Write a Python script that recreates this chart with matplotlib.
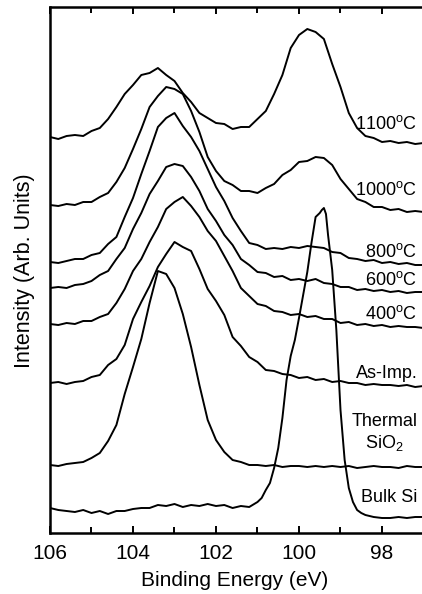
import matplotlib
matplotlib.use("Agg")
import matplotlib.pyplot as plt

plt.rcParams['font.family'] = ['Liberation Sans', 'DejaVu Sans']
plt.rcParams['mathtext.fontset'] = 'custom'
plt.rcParams['mathtext.rm'] = 'Liberation Sans'
plt.rcParams['mathtext.it'] = 'Liberation Sans:italic'
plt.rcParams['mathtext.bf'] = 'Liberation Sans:bold'

# Binding energy grid (eV)
energy = [106.0, 105.8, 105.6, 105.4, 105.2, 105.0, 104.8, 104.6, 104.4, 104.2,
          104.0, 103.8, 103.6, 103.4, 103.2, 103.0, 102.8, 102.6, 102.4, 102.2,
          102.0, 101.8, 101.6, 101.4, 101.2, 101.0, 100.8, 100.6, 100.4, 100.2,
          100.0, 99.8, 99.6, 99.4, 99.2, 99.0, 98.8, 98.6, 98.4, 98.2,
          98.0, 97.8, 97.6, 97.4, 97.2, 97.0]

# Intensities (arb. units, offset stacked)
s1100 = [396, 394, 397, 398, 397, 402, 405, 414, 426, 439, 448, 458, 460, 465, 458, 452,
         440, 431, 420, 415, 410, 409, 404, 406, 406, 414, 422, 439, 458, 485, 498, 504,
         501, 494, 469, 446, 420, 405, 397, 395, 391, 392, 390, 391, 389, 390]
s1000 = [328, 327, 329, 328, 331, 331, 336, 340, 351, 365, 384, 404, 426, 437, 446, 444,
         439, 422, 401, 376, 362, 352, 348, 342, 342, 340, 345, 349, 358, 363, 371, 372,
         376, 375, 368, 354, 344, 334, 331, 326, 326, 323, 324, 321, 322, 321]
s800 = [271, 270, 272, 274, 274, 278, 280, 289, 296, 316, 335, 359, 382, 406, 415, 420,
        407, 396, 382, 364, 346, 332, 315, 302, 290, 288, 284, 285, 284, 286, 285, 287,
        286, 285, 281, 280, 275, 274, 272, 273, 270, 271, 269, 270, 268, 268]
s600 = [245, 246, 245, 248, 249, 252, 258, 262, 274, 285, 304, 320, 339, 352, 366, 369,
        367, 356, 342, 324, 312, 298, 288, 274, 268, 261, 260, 256, 257, 253, 254, 252,
        254, 250, 249, 246, 246, 243, 244, 242, 243, 241, 242, 240, 241, 241]
s400 = [209, 208, 210, 209, 212, 212, 216, 219, 230, 244, 262, 274, 291, 306, 324, 331,
        336, 327, 316, 302, 292, 277, 262, 245, 237, 229, 227, 222, 221, 218, 219, 216,
        217, 214, 214, 210, 211, 208, 209, 207, 208, 206, 207, 206, 206, 205]
s_asimp = [150, 151, 149, 151, 152, 156, 158, 168, 174, 188, 214, 231, 247, 266, 279, 291,
           286, 282, 264, 244, 232, 218, 196, 187, 176, 171, 163, 162, 159, 158, 155, 156,
           153, 154, 151, 152, 150, 150, 148, 149, 148, 148, 147, 148, 146, 147]
s_thermal = [68, 67, 69, 70, 71, 75, 80, 92, 108, 139, 166, 194, 230, 262, 259, 245,
             219, 186, 148, 113, 93, 81, 73, 71, 68, 68, 67, 68, 66, 67, 67, 66,
             67, 66, 67, 66, 67, 65, 66, 67, 66, 66, 65, 67, 66, 66]

bulk_energy = [106.0, 105.8, 105.6, 105.4, 105.2, 105.0, 104.8, 104.6, 104.4, 104.2,
               104.0, 103.8, 103.6, 103.4, 103.2, 103.0, 102.8, 102.6, 102.4, 102.2,
               102.0, 101.8, 101.6, 101.4, 101.2, 101.0,
               100.9, 100.8, 100.7, 100.6, 100.5, 100.4, 100.3, 100.2, 100.1, 100.0,
               99.9, 99.8, 99.7, 99.6, 99.5, 99.45, 99.4, 99.35, 99.3, 99.2,
               99.1, 99.0, 98.9, 98.8, 98.7, 98.6, 98.5, 98.4,
               98.2, 98.0, 97.8, 97.6, 97.4, 97.2, 97.0]
s_bulk = [25, 23, 22, 21, 23, 20, 22, 19, 22, 22, 24, 25, 25, 28, 27, 29, 26, 28, 27, 29,
          27, 28, 25, 27, 26, 31,
          35, 43, 50, 65, 85, 115, 153, 177, 193, 215, 238, 261, 290, 316, 320, 323, 325,
          319, 298, 263, 203, 123, 73, 45, 31, 23, 20, 18,
          16, 15, 15, 16, 15, 16, 16]

labels = ["1100$^{\\rm o}$C", "1000$^{\\rm o}$C", "800$^{\\rm o}$C", "600$^{\\rm o}$C",
          "400$^{\\rm o}$C", "As-Imp.", "Thermal\nSiO$_2$", "Bulk Si"]
label_y = [409, 343, 281, 253, 219, 160, 100, 36]

major_ticks = [106, 104, 102, 100, 98]
minor_ticks = [105, 103, 101, 99, 97]

fig = plt.figure(figsize=(4.22, 5.94), dpi=100)
ax = fig.add_axes([50 / 422, 61 / 594, 373.5 / 422, 526 / 594])

for s in [s1100, s1000, s800, s600, s400, s_asimp, s_thermal]:
    ax.plot(energy, s, color='black', lw=1.4)
ax.plot(bulk_energy, s_bulk, color='black', lw=1.4)

for lab, yy in zip(labels, label_y):
    ax.text(97.15, yy, lab, ha='right', va='center', ma='center', fontsize=13)

ax.set_xlim(106, 97)
ax.set_ylim(0, 526)
ax.set_xticks(major_ticks)
ax.set_xticks(minor_ticks, minor=True)
ax.set_xticklabels([str(t) for t in major_ticks])
ax.set_yticks([])
ax.tick_params(axis='x', which='both', direction='in', top=True, bottom=True,
               width=1.4, labelsize=15, pad=8)
ax.tick_params(axis='x', which='major', length=5)
ax.tick_params(axis='x', which='minor', length=4)
for sp in ax.spines.values():
    sp.set_linewidth(1.8)

fig.text(235 / 422, 1 - 580 / 594, "Binding Energy (eV)", ha='center', va='center', fontsize=15)
fig.text(25 / 422, 1 - 271 / 594, "Intensity (Arb. Units)", ha='center', va='center',
         rotation=90, fontsize=15.5)

fig.savefig("out.png", dpi=100)
